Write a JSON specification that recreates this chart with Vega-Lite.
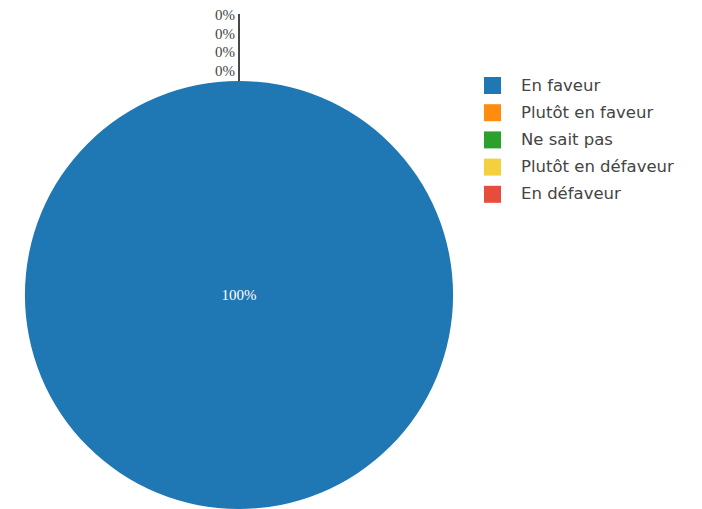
{
  "$schema": "https://vega.github.io/schema/vega-lite/v6.json",
  "width": 478,
  "height": 590,
  "padding": {"left": 0, "top": 0, "right": 224, "bottom": 0},
  "autosize": {"type": "none"},
  "background": "white",
  "config": {"view": {"stroke": null}},
  "data": {
    "values": [
      {"Réponse": "En faveur", "share": 1},
      {"Réponse": "Plutôt en faveur", "share": 0},
      {"Réponse": "Ne sait pas", "share": 0},
      {"Réponse": "Plutôt en défaveur", "share": 0},
      {"Réponse": "En défaveur", "share": 0}
    ]
  },
  "layer": [
    {
      "mark": {"type": "arc", "outerRadius": 214},
      "encoding": {
        "theta": {"field": "share", "type": "quantitative", "stack": true},
        "order": {"field": "share", "type": "quantitative", "sort": "descending"},
        "color": {
          "field": "Réponse",
          "type": "nominal",
          "scale": {
            "domain": ["En faveur", "Plutôt en faveur", "Ne sait pas", "Plutôt en défaveur", "En défaveur"],
            "range": ["#1f77b4", "#ff8c0e", "#2ca02c", "#f4d03f", "#e74c3c"]
          },
          "legend": {
            "title": null,
            "orient": "none",
            "legendX": 484,
            "legendY": 77,
            "padding": 0,
            "symbolType": "square",
            "symbolSize": 289,
            "symbolStrokeWidth": 0,
            "symbolOpacity": 1,
            "labelFont": "DejaVu Sans",
            "labelFontSize": 16.5,
            "labelColor": "#444444",
            "labelOffset": 20,
            "rowPadding": 10.2,
            "labelLimit": 300
          }
        }
      }
    },
    {
      "transform": [{"filter": "datum.share == 0"}],
      "mark": {"type": "arc", "radius2": 214, "radius": 281, "fill": null, "stroke": "#444444", "strokeWidth": 1.2},
      "encoding": {
        "theta": {"field": "share", "type": "quantitative", "stack": true}
      }
    },
    {
      "transform": [{"filter": "datum.share > 0"}],
      "mark": {"type": "text", "radius": 0, "font": "Liberation Serif", "fontSize": 15, "fill": "white", "baseline": "middle", "align": "center"},
      "encoding": {
        "theta": {"field": "share", "type": "quantitative", "stack": true},
        "text": {"field": "share", "type": "quantitative", "format": ".0%"}
      }
    },
    {
      "transform": [{"filter": "datum.share == 0"}],
      "mark": {"type": "text", "font": "Liberation Serif", "fontSize": 15, "fill": "#444444", "baseline": "middle", "align": "right", "dx": -4},
      "encoding": {
        "theta": {"field": "share", "type": "quantitative", "stack": true},
        "radius": {
          "field": "Réponse",
          "type": "ordinal",
          "scale": {"type": "point", "domain": ["Plutôt en faveur", "Ne sait pas", "Plutôt en défaveur", "En défaveur"], "range": [224, 280], "padding": 0}
        },
        "text": {"field": "share", "type": "quantitative", "format": ".0%"}
      }
    }
  ]
}
